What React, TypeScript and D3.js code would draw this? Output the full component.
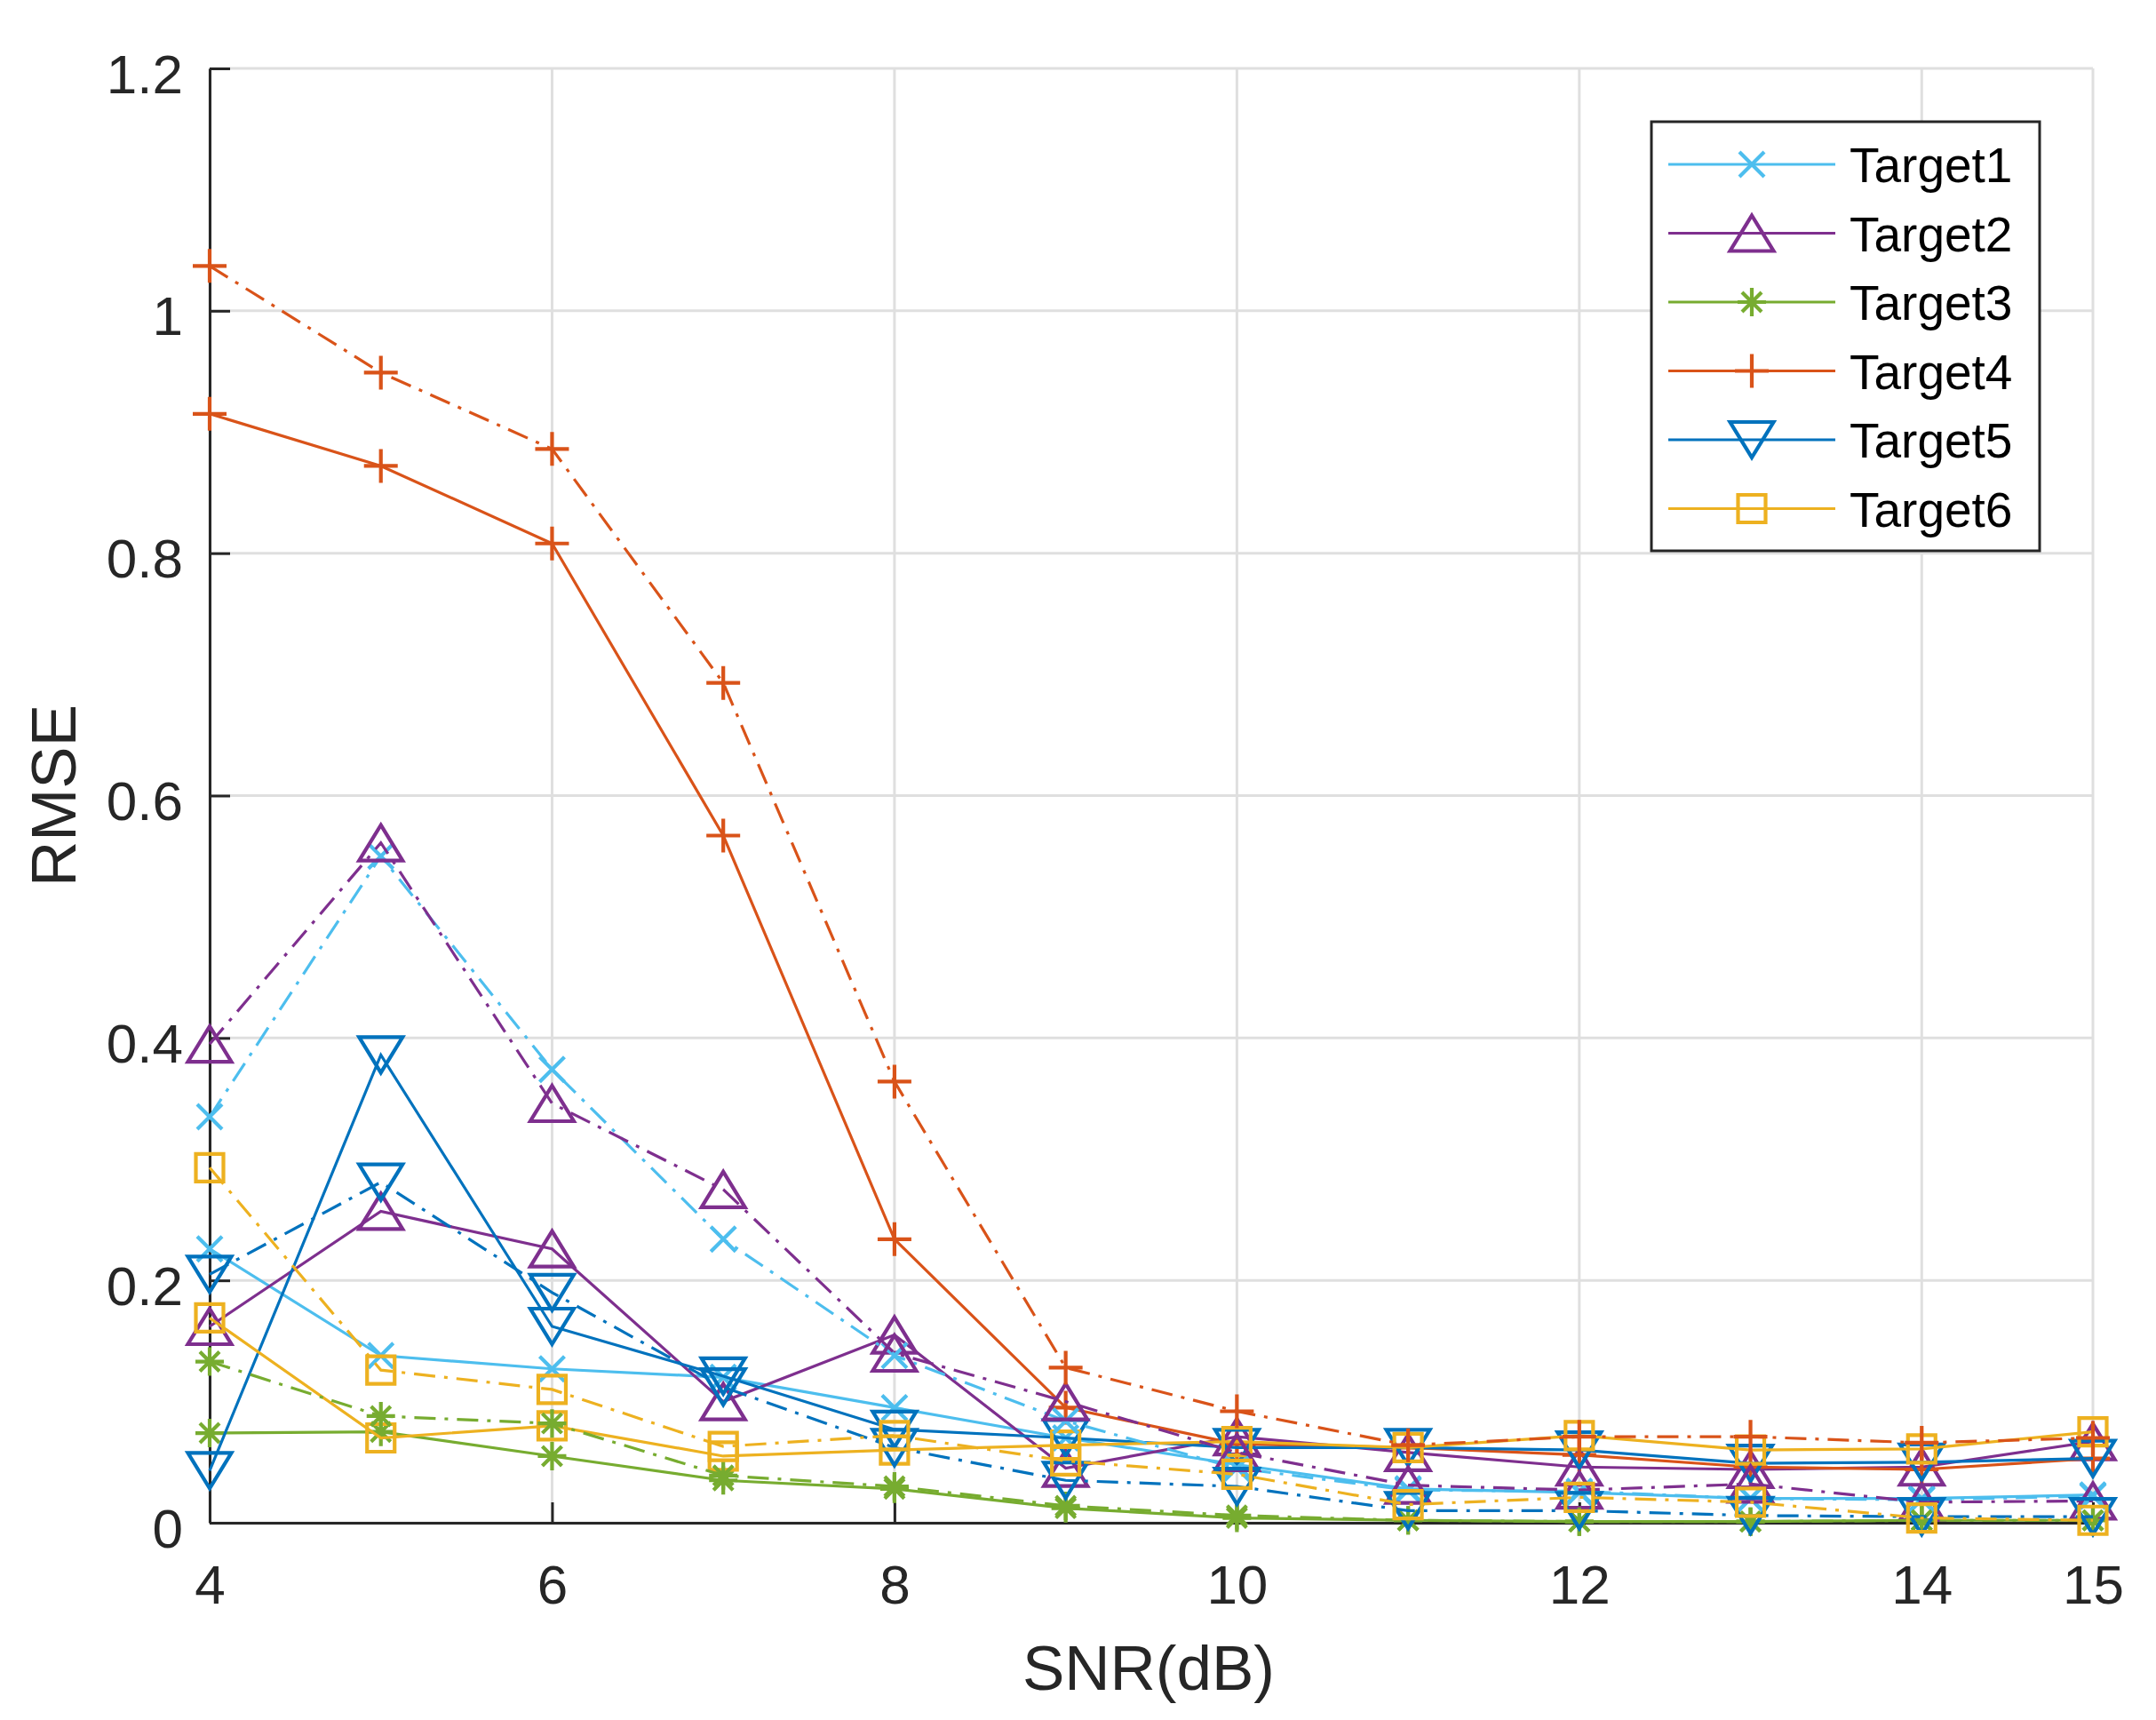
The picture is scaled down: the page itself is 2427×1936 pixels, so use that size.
import * as d3 from 'd3'
import { useEffect, useRef } from 'react'

const snr = [4, 5, 6, 7, 8, 9, 10, 11, 12, 13, 14, 15]
const xTicks = [4, 6, 8, 10, 12, 14, 15]
const yTicks = [0, 0.2, 0.4, 0.6, 0.8, 1, 1.2]

const target1Solid = [0.226, 0.138, 0.127, 0.12, 0.095, 0.07, 0.048, 0.028, 0.025, 0.02, 0.02, 0.023]
const target1Dash = [0.335, 0.55, 0.374, 0.234, 0.138, 0.084, 0.045, 0.027, 0.026, 0.02, 0.019, 0.022]
const target2Solid = [0.162, 0.257, 0.226, 0.1, 0.155, 0.045, 0.071, 0.058, 0.046, 0.044, 0.046, 0.067]
const target2Dash = [0.395, 0.561, 0.346, 0.275, 0.14, 0.1, 0.058, 0.031, 0.027, 0.032, 0.017, 0.018]
const target3Solid = [0.074, 0.075, 0.055, 0.035, 0.028, 0.012, 0.004, 0.002, 0.001, 0.001, 0.002, 0.002]
const target3Dash = [0.133, 0.088, 0.082, 0.039, 0.03, 0.014, 0.006, 0.002, 0.001, 0.001, 0.002, 0.002]
const target4Solid = [0.915, 0.872, 0.808, 0.567, 0.234, 0.095, 0.065, 0.062, 0.056, 0.046, 0.044, 0.053]
const target4Dash = [1.037, 0.949, 0.886, 0.693, 0.364, 0.128, 0.092, 0.064, 0.071, 0.071, 0.066, 0.07]
const target5Solid = [0.043, 0.386, 0.162, 0.121, 0.077, 0.07, 0.062, 0.062, 0.06, 0.049, 0.05, 0.053]
const target5Dash = [0.205, 0.281, 0.19, 0.112, 0.062, 0.035, 0.03, 0.01, 0.01, 0.006, 0.005, 0.005]
const target6Solid = [0.169, 0.07, 0.08, 0.055, 0.06, 0.064, 0.067, 0.062, 0.072, 0.06, 0.061, 0.075]
const target6Dash = [0.293, 0.126, 0.11, 0.063, 0.072, 0.051, 0.04, 0.015, 0.021, 0.017, 0.004, 0.002]

const names = ['Target1', 'Target2', 'Target3', 'Target4', 'Target5', 'Target6']
const colors = ['#4DBEEE', '#7E2F8E', '#77AC30', '#D95319', '#0072BD', '#EDB120']
const markers = ['x', 'tri-up', 'star', 'plus', 'tri-down', 'square']
const solidSeries = [target1Solid, target2Solid, target3Solid, target4Solid, target5Solid, target6Solid]
const dashSeries = [target1Dash, target2Dash, target3Dash, target4Dash, target5Dash, target6Dash]

const W = 2427
const H = 1936
const FONT = 'Arial, "Liberation Sans", Helvetica, sans-serif'

function markerPath(kind: string) {
  switch (kind) {
    case 'x':
      return 'M-14,-14L14,14M-14,14L14,-14'
    case 'plus':
      return 'M-19,0H19M0,-19V19'
    case 'star':
      return 'M-16,0H16M0,-16V16M-11,-11L11,11M-11,11L11,-11'
    case 'tri-up':
      return 'M0,-20L24.5,20L-24.5,20Z'
    case 'tri-down':
      return 'M0,20L24.5,-20L-24.5,-20Z'
    default:
      return 'M-15.5,-15.5H15.5V15.5H-15.5Z'
  }
}

export default function App() {
  const ref = useRef<SVGSVGElement | null>(null)

  useEffect(() => {
    if (!ref.current) return
    const svg = d3.select(ref.current)
    svg.selectAll('*').remove()

    const margin = { left: 236, right: W - 2356, top: 77, bottom: H - 1714 }

    const x = d3.scaleLinear().domain([4, 15]).range([margin.left, W - margin.right])
    const y = d3.scaleLinear().domain([0, 1.2]).range([H - margin.bottom, margin.top])

    svg.append('rect').attr('width', W).attr('height', H).attr('fill', '#fff')

    // grid
    const grid = svg.append('g').attr('stroke', '#dfdfdf').attr('stroke-width', 3)
    xTicks.forEach(t => {
      grid.append('line')
        .attr('x1', x(t)).attr('x2', x(t))
        .attr('y1', y(0)).attr('y2', y(1.2))
    })
    yTicks.forEach(t => {
      grid.append('line')
        .attr('x1', x(4)).attr('x2', x(15))
        .attr('y1', y(t)).attr('y2', y(t))
    })

    // axes
    const axisColor = '#262626'
    const xAxis = svg.append('g')
      .attr('transform', `translate(0,${y(0)})`)
      .call(d3.axisBottom(x).tickValues(xTicks).tickSize(-23).tickSizeOuter(0).tickPadding(68))
    const yAxis = svg.append('g')
      .attr('transform', `translate(${x(4)},0)`)
      .call(d3.axisLeft(y).tickValues(yTicks).tickSize(-23).tickSizeOuter(0).tickPadding(30)
        .tickFormat(d => d3.format('~g')(d as number)))
    ;[xAxis, yAxis].forEach(g => {
      g.attr('font-family', FONT)
      g.select('.domain').attr('stroke', axisColor).attr('stroke-width', 3)
      g.selectAll('.tick line').attr('stroke', axisColor).attr('stroke-width', 3)
      g.selectAll('.tick text')
        .attr('fill', axisColor)
        .attr('font-family', FONT)
        .attr('font-size', 62)
    })
    xAxis.selectAll('.tick text').attr('dy', null).attr('y', 91)
    yAxis.selectAll('.tick text').attr('dy', 27)

    // axis labels
    svg.append('text')
      .attr('x', (x(4) + x(15)) / 2 - 3)
      .attr('y', 1902)
      .attr('text-anchor', 'middle')
      .attr('font-family', FONT)
      .attr('font-size', 71)
      .attr('fill', axisColor)
      .text('SNR(dB)')
    svg.append('text')
      .attr('transform', `translate(85,${(y(0) + y(1.2)) / 2}) rotate(-90)`)
      .attr('text-anchor', 'middle')
      .attr('font-family', FONT)
      .attr('font-size', 71)
      .attr('fill', axisColor)
      .text('RMSE')

    const line = d3.line<number>()
      .x((_, i) => x(snr[i]))
      .y(d => y(d))

    const drawSeries = (values: number[], k: number, dashed: boolean) => {
      const g = svg.append('g')
      g.append('path')
        .datum(values)
        .attr('fill', 'none')
        .attr('stroke', colors[k])
        .attr('stroke-width', 3.2)
        .attr('stroke-dasharray', dashed ? '24 10 4 10' : null)
        .attr('d', line)
      g.selectAll('path.m')
        .data(values)
        .join('path')
        .attr('class', 'm')
        .attr('transform', (d, i) => `translate(${x(snr[i])},${y(d)})`)
        .attr('d', markerPath(markers[k]))
        .attr('fill', 'none')
        .attr('stroke', colors[k])
        .attr('stroke-width', 4.2)
    }

    solidSeries.forEach((s, k) => drawSeries(s, k, false))
    dashSeries.forEach((s, k) => drawSeries(s, k, true))

    // legend
    const lg = svg.append('g')
    lg.append('rect')
      .attr('x', 1859).attr('y', 137)
      .attr('width', 437).attr('height', 483)
      .attr('fill', '#fff')
      .attr('stroke', axisColor)
      .attr('stroke-width', 3)
    names.forEach((name, k) => {
      const cy = 185 + k * 77.5
      lg.append('line')
        .attr('x1', 1878).attr('x2', 2066)
        .attr('y1', cy).attr('y2', cy)
        .attr('stroke', colors[k]).attr('stroke-width', 3.2)
      lg.append('path')
        .attr('transform', `translate(1972,${cy})`)
        .attr('d', markerPath(markers[k]))
        .attr('fill', 'none')
        .attr('stroke', colors[k])
        .attr('stroke-width', 4.2)
      lg.append('text')
        .attr('x', 2082)
        .attr('y', cy + 20)
        .attr('font-family', FONT)
        .attr('font-size', 55)
        .attr('fill', '#000')
        .text(name)
    })
  }, [])

  return (
    <svg
      ref={ref}
      width={W}
      height={H}
      style={{ position: 'absolute', left: 0, top: 0 }}
    />
  )
}
